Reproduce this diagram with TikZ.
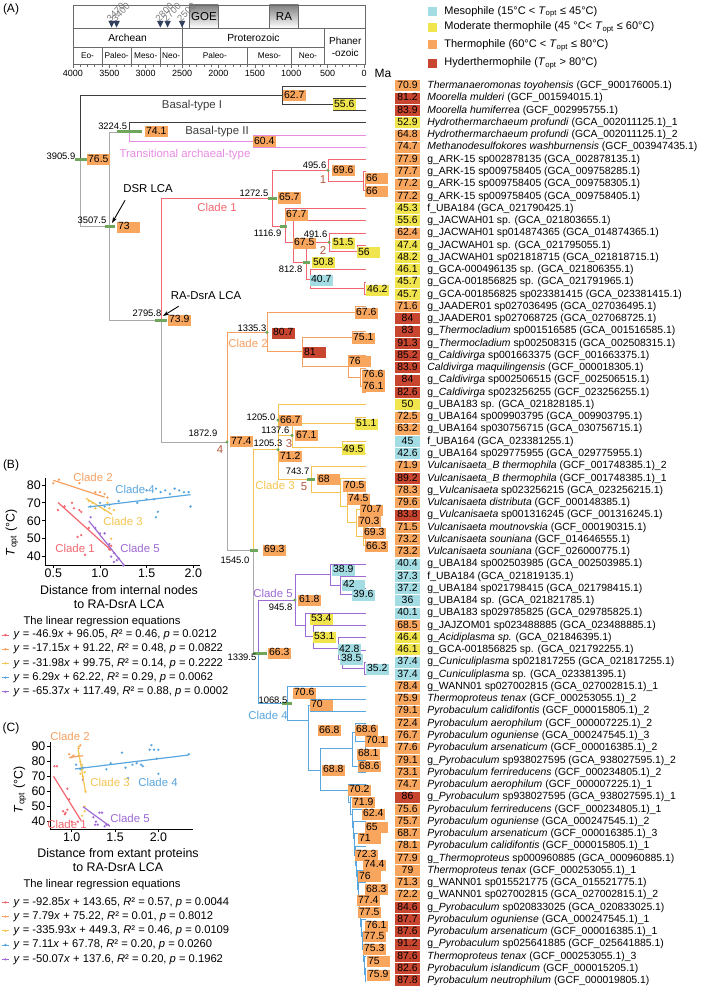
\documentclass[tikz,border=0pt]{standalone}
\usepackage{fontspec}
\setmainfont{Liberation Sans}
\usetikzlibrary{arrows.meta,positioning,calc}

\definecolor{meso}{HTML}{A4DCE4}
\definecolor{modt}{HTML}{F1E54E}
\definecolor{therm}{HTML}{F8A55E}
\definecolor{hyper}{HTML}{C8462F}
\definecolor{basal}{HTML}{3D3D3D}
\definecolor{stem}{HTML}{AAAAAA}
\definecolor{trans}{HTML}{E88BE2}
\definecolor{cladeA}{HTML}{F2666F}
\definecolor{cladeB}{HTML}{F6A062}
\definecolor{cladeC}{HTML}{F3C451}
\definecolor{cladeD}{HTML}{5AA6DE}
\definecolor{cladeE}{HTML}{9E6AD4}
\definecolor{hpd}{HTML}{6EA65C}
\definecolor{numred}{HTML}{B5573E}
\definecolor{frame}{HTML}{6A6A6A}
\definecolor{event}{HTML}{30405C}
\definecolor{evtext}{HTML}{7A7A7A}
\definecolor{shade}{HTML}{C9C9C9}

\newcommand\tipfont{\fontsize{10.4}{12}\selectfont}
\newcommand\agefont{\fontsize{9.4}{11}\selectfont}
\newcommand\cladefont{\fontsize{11.4}{13}\selectfont}
\newcommand\eqfont{\fontsize{11.2}{13}\selectfont}
\newcommand\axfont{\fontsize{12.4}{14}\selectfont}

\begin{document}
\begin{tikzpicture}[x=1pt,y=-1pt,>=Stealth]
  \tikzstyle{tipval}=[inner sep=0pt,minimum width=25pt,minimum height=11pt,text height=7.6pt,text depth=2.2pt,font=\tipfont]
  \tikzstyle{tiplab}=[inner sep=0pt,anchor=west,text height=7.6pt,text depth=2.2pt,font=\tipfont]
  \tikzstyle{nodeval}=[inner sep=0pt,inner xsep=1pt,anchor=west,minimum height=11pt,text width=21pt,align=left,text height=7.6pt,text depth=2.2pt,font=\tipfont]
  \tikzstyle{agelab}=[inner sep=0.5pt,anchor=east,font=\agefont]
  \tikzstyle{cladelab}=[inner sep=0pt,font=\cladefont]
  \tikzstyle{cladenum}=[inner sep=0pt,font=\cladefont,text=numred]
  \tikzstyle{br}=[line width=0.9pt]
  \tikzstyle{hpdbar}=[hpd,line width=3pt]
  \tikzstyle{frameline}=[frame,line width=0.7pt]
  \tikzstyle{eqline}=[inner sep=0pt,anchor=west,font=\eqfont]
  \tikzstyle{axline}=[black,line width=0.9pt]

  \useasboundingbox (0,0) rectangle (702,987);

  % ---------- panel labels
  \node[font=\fontsize{12}{14}\selectfont] (panA) at (11,9) {(A)};
  \node[font=\fontsize{12}{14}\selectfont] (panB) at (11,465) {(B)};
  \node[font=\fontsize{12}{14}\selectfont] (panC) at (11,728) {(C)};

  % ---------- geological time scale
  \begin{scope}[shift={(364,0)},x=-0.07275pt]
    \fill[shade] (2400,5) rectangle (2000,28);
    \fill[shade] (1300,5) rectangle (900,28);
    \draw[frameline] (2400,5) -- (2400,28) (2000,5) -- (2000,28)
                     (1300,5) -- (1300,28) (900,5) -- (900,28);
    \draw[frameline] (4000,5) rectangle (-25,64.5);
    \draw[frameline] (4000,28) -- (-25,28);
    \draw[frameline] (4000,47) -- (541,47);
    \draw[frameline] (2500,24) -- (2500,64.5);
    \draw[frameline] (541,28) -- (541,64.5);
    \foreach \a in {3600,3200,2800,1600,1000}
      \draw[frameline] (\a,47) -- (\a,64.5);
    \foreach \a in {0,100,...,4000}
      \draw[frameline] (\a,64.5) -- (\a,66.8);
    \foreach \a in {0,500,...,4000}{
      \draw[frameline] (\a,64.5) -- (\a,68.5);
      \node[font=\fontsize{9}{10}\selectfont,inner sep=0pt] (tk\a) at (\a,73) {\a};
    }
    \node[font=\fontsize{11.5}{13}\selectfont] (goe) at (2200,16.5) {GOE};
    \node[font=\fontsize{11.5}{13}\selectfont] (ra) at (1100,16.5) {RA};
    \node[font=\fontsize{10.3}{12}\selectfont] (archean) at (3250,37.5) {Archean};
    \node[font=\fontsize{10.3}{12}\selectfont] (proter) at (1520,37.5) {Proterozoic};
    \node[font=\fontsize{10}{12}\selectfont,align=center,inner sep=0pt] (phaner) at (258,47) {Phaner\\-ozoic};
    \foreach \a/\b/\n in {4000/3600/Eo-,3600/3200/Paleo-,3200/2800/Meso-,2800/2500/Neo-,2500/1600/Paleo-,1600/1000/Meso-,1000/541/Neo-}
      \node[font=\fontsize{8.3}{10}\selectfont,inner sep=0pt] (era\b) at ({(\a+\b)/2},56) {\n};
  \end{scope}
  \node[font=\fontsize{12}{14}\selectfont,inner sep=0pt] (ma) at (383,73) {Ma};
  \foreach \x/\n in {111.6/3470,116.6/3400,160.3/2800,167.6/2700,182.1/2500}{
    \fill[event] (\x,27.5) -- (\x-3.2,21) -- (\x+3.2,21) -- cycle;
    \node[font=\fontsize{9.5}{11}\selectfont,text=evtext,rotate=45,anchor=west,inner sep=0pt] (ev\n) at (\x-3.5,20) {\n};
  }

  % ---------- legend
  \foreach \c/\y/\n in {meso/11.7/{Mesophile (15°C < \textit{T}\textsubscript{opt} ≤ 45°C)},
                        modt/27.3/{Moderate thermophile (45 °C< \textit{T}\textsubscript{opt} ≤ 60°C)},
                        therm/45/{Thermophile (60°C < \textit{T}\textsubscript{opt} ≤ 80°C)},
                        hyper/63.3/{Hyderthermophile (\textit{T}\textsubscript{opt} > 80°C)}}{
    \node[fill=\c,minimum size=9pt,inner sep=0pt] (lg\c) at (432.5,\y) {};
    \node[inner sep=0pt,anchor=west,font=\fontsize{11}{13}\selectfont,right=7pt of lg\c.east] (lt\c) {\n};
  }

  % ---------- tips
  \foreach \val/\col/\lab [count=\i] in {
    70.9/therm/{\textit{Thermanaeromonas toyohensis} (GCF\_900176005.1)},
    81.2/hyper/{\textit{Moorella mulderi} (GCF\_001594015.1)},
    83.9/hyper/{\textit{Moorella humiferrea} (GCF\_002995755.1)},
    52.9/modt/{\textit{Hydrothermarchaeum profundi} (GCA\_002011125.1)\_1},
    64.8/therm/{\textit{Hydrothermarchaeum profundi} (GCA\_002011125.1)\_2},
    74.7/therm/{\textit{Methanodesulfokores washburnensis} (GCF\_003947435.1)},
    77.9/therm/{g\_ARK-15 sp002878135 (GCA\_002878135.1)},
    77.7/therm/{g\_ARK-15 sp009758405 (GCA\_009758285.1)},
    77.2/therm/{g\_ARK-15 sp009758405 (GCA\_009758305.1)},
    77.2/therm/{g\_ARK-15 sp009758405 (GCA\_009758405.1)},
    45.3/modt/{f\_UBA184 (GCA\_021790425.1)},
    55.6/modt/{g\_JACWAH01 sp. (GCA\_021803655.1)},
    62.4/therm/{g\_JACWAH01 sp014874365 (GCA\_014874365.1)},
    47.4/modt/{g\_JACWAH01 sp. (GCA\_021795055.1)},
    48.2/modt/{g\_JACWAH01 sp021818715 (GCA\_021818715.1)},
    46.1/modt/{g\_GCA-000496135 sp. (GCA\_021806355.1)},
    45.7/modt/{g\_GCA-001856825 sp. (GCA\_021791965.1)},
    45.7/modt/{g\_GCA-001856825 sp023381415 (GCA\_023381415.1)},
    71.6/therm/{g\_JAADER01 sp027036495 (GCA\_027036495.1)},
    84/hyper/{g\_JAADER01 sp027068725 (GCA\_027068725.1)},
    83/hyper/{g\_\textit{Thermocladium} sp001516585 (GCA\_001516585.1)},
    91.3/hyper/{g\_\textit{Thermocladium} sp002508315 (GCA\_002508315.1)},
    85.2/hyper/{g\_\textit{Caldivirga} sp001663375 (GCF\_001663375.1)},
    83.9/hyper/{\textit{Caldivirga maquilingensis} (GCF\_000018305.1)},
    84/hyper/{g\_\textit{Caldivirga} sp002506515 (GCF\_002506515.1)},
    82.6/hyper/{g\_\textit{Caldivirga} sp023256255 (GCF\_023256255.1)},
    50/modt/{g\_UBA183 sp. (GCA\_021828185.1)},
    72.5/therm/{g\_UBA164 sp009903795 (GCA\_009903795.1)},
    63.2/therm/{g\_UBA164 sp030756715 (GCA\_030756715.1)},
    45/meso/{f\_UBA164 (GCA\_023381255.1)},
    42.6/meso/{g\_UBA164 sp029775955 (GCA\_029775955.1)},
    71.9/therm/{\textit{Vulcanisaeta\_B thermophila} (GCF\_001748385.1)\_2},
    89.2/hyper/{\textit{Vulcanisaeta\_B thermophila} (GCF\_001748385.1)\_1},
    78.3/therm/{g\_\textit{Vulcanisaeta} sp023256215 (GCA\_023256215.1)},
    79.6/therm/{\textit{Vulcanisaeta distributa} (GCF\_000148385.1)},
    83.8/hyper/{g\_\textit{Vulcanisaeta} sp001316245 (GCF\_001316245.1)},
    71.5/therm/{\textit{Vulcanisaeta moutnovskia} (GCF\_000190315.1)},
    73.2/therm/{\textit{Vulcanisaeta souniana} (GCF\_014646555.1)},
    73.2/therm/{\textit{Vulcanisaeta souniana} (GCF\_026000775.1)},
    40.4/meso/{g\_UBA184 sp002503985 (GCA\_002503985.1)},
    37.3/meso/{f\_UBA184 (GCA\_021819135.1)},
    37.2/meso/{g\_UBA184 sp021798415 (GCA\_021798415.1)},
    36/meso/{g\_UBA184 sp. (GCA\_021821785.1)},
    40.1/meso/{g\_UBA183 sp029785825 (GCA\_029785825.1)},
    68.5/therm/{g\_JAJZOM01 sp023488885 (GCA\_023488885.1)},
    46.4/modt/{g\_\textit{Acidiplasma sp.} (GCA\_021846395.1)},
    46.1/modt/{g\_GCA-001856825 sp. (GCA\_021792255.1)},
    37.4/meso/{g\_\textit{Cuniculiplasma} sp021817255 (GCA\_021817255.1)},
    37.4/meso/{g\_\textit{Cuniculiplasma} sp. (GCA\_023381395.1)},
    78.4/therm/{g\_WANN01 sp027002815 (GCA\_027002815.1)\_1},
    75.9/therm/{\textit{Thermoproteus tenax} (GCF\_000253055.1)\_2},
    79.1/therm/{\textit{Pyrobaculum calidifontis} (GCF\_000015805.1)\_2},
    72.4/therm/{\textit{Pyrobaculum aerophilum} (GCF\_000007225.1)\_2},
    76.7/therm/{\textit{Pyrobaculum oguniense} (GCA\_000247545.1)\_3},
    77.6/therm/{\textit{Pyrobaculum arsenaticum} (GCF\_000016385.1)\_2},
    79.1/therm/{g\_\textit{Pyrobaculum} sp938027595 (GCA\_938027595.1)\_2},
    73.1/therm/{\textit{Pyrobaculum ferrireducens} (GCF\_000234805.1)\_2},
    74.7/therm/{\textit{Pyrobaculum aerophilum} (GCF\_000007225.1)\_1},
    86/hyper/{g\_\textit{Pyrobaculum} sp938027595 (GCA\_938027595.1)\_1},
    75.6/therm/{\textit{Pyrobaculum ferrireducens} (GCF\_000234805.1)\_1},
    75.7/therm/{\textit{Pyrobaculum oguniense} (GCA\_000247545.1)\_2},
    68.7/therm/{\textit{Pyrobaculum arsenaticum} (GCF\_000016385.1)\_3},
    78.1/therm/{\textit{Pyrobaculum calidifontis} (GCF\_000015805.1)\_1},
    77.9/therm/{g\_\textit{Thermoproteus} sp000960885 (GCA\_000960885.1)},
    79/therm/{\textit{Thermoproteus tenax} (GCF\_000253055.1)\_1},
    71.3/therm/{g\_WANN01 sp015521775 (GCA\_015521775.1)},
    72.2/therm/{g\_WANN01 sp027002815 (GCA\_027002815.1)\_2},
    84.6/hyper/{g\_\textit{Pyrobaculum} sp020833025 (GCA\_020833025.1)},
    87.7/hyper/{\textit{Pyrobaculum oguniense} (GCA\_000247545.1)\_1},
    87.6/hyper/{\textit{Pyrobaculum arsenaticum} (GCF\_000016385.1)\_1},
    91.2/hyper/{g\_\textit{Pyrobaculum} sp025641885 (GCF\_025641885.1)},
    87.6/hyper/{\textit{Thermoproteus tenax} (GCF\_000253055.1)\_3},
    82.6/hyper/{\textit{Pyrobaculum islandicum} (GCF\_000015205.1)},
    87.8/hyper/{\textit{Pyrobaculum neutrophilum} (GCF\_000019805.1)}}{
    \pgfmathsetmacro\yy{86+(\i-1)*12.26}
    \coordinate (l\i) at (366,\yy);
    \node[tipval,fill=\col] (v\i) at (407.5,\yy) {\val};
    \node[tiplab,right=7pt of v\i.east] (t\i) {\lab};
  }

  % ---------- internal nodes of the tree
  \coordinate (R) at (80,160);
  \coordinate (nB1) at (282,95);
  \coordinate (nB1b) at (333,104.4);
  \coordinate (DSR) at (109,226);
  \coordinate (n3224) at (129,132);
  \coordinate (nTr) at (253,141.2);
  \coordinate (RA) at (161,320);
  % clade 1
  \coordinate (n1272) at (272,198);
  \coordinate (n495) at (328,170.3);
  \coordinate (nA1) at (363,181);
  \coordinate (nA2) at (365,190.2);
  \coordinate (n1116) at (285,226);
  \coordinate (nB) at (293,242);
  \coordinate (n812) at (306,262);
  \coordinate (n491) at (329,242.3);
  \coordinate (n56) at (357,251.5);
  \coordinate (n40) at (310,279);
  \coordinate (n46) at (364,288.3);
  % clade 2
  \coordinate (n1872) at (227,442);
  \coordinate (n1335) at (267,332.4);
  \coordinate (n676) at (355,312.8);
  \coordinate (n81) at (302,351.9);
  \coordinate (n751) at (352,337.3);
  \coordinate (n76) at (348,366.5);
  \coordinate (n766) at (360,377.2);
  \coordinate (n761) at (362,386.4);
  % clade 3
  \coordinate (n1545) at (253,550);
  \coordinate (n1205c) at (278,449.7);
  \coordinate (n1205) at (278,420.1);
  \coordinate (n1137) at (292,435.4);
  \coordinate (n511) at (355,423.2);
  \coordinate (n495y) at (342,447.7);
  \coordinate (n743) at (311,479.3);
  \coordinate (n705) at (340,492.5);
  \coordinate (n745) at (347,506.7);
  \coordinate (n703) at (356,522.8);
  \coordinate (n707) at (360,509);
  \coordinate (n693) at (363,536.6);
  \coordinate (n663) at (365,545.8);
  % clade 5
  \coordinate (n1339) at (258,653);
  \coordinate (n945) at (295,600);
  \coordinate (n389) at (330,574.9);
  \coordinate (n42) at (340,585.6);
  \coordinate (n396) at (352,594.8);
  \coordinate (n534) at (305,625);
  \coordinate (n531) at (313,636.9);
  \coordinate (n428) at (338,648.4);
  \coordinate (n385) at (342,659.1);
  \coordinate (n352) at (364,668.3);
  % clade 4
  \coordinate (n1068) at (287,703);
  \coordinate (nP) at (308,720);
  \coordinate (n70) at (310,705.1);
  \coordinate (nR) at (320,770.5);
  \coordinate (nG1) at (352,748);
  \coordinate (nG1a) at (355,732.7);
  \coordinate (nG1c) at (365,741.9);
  \coordinate (nG1b) at (358,766.4);
  \foreach \x/\y [count=\k] in {348/790,350/802.7,352/814,353/827.7,354/838.7,355/855,356/865,357/876.7,
                                358/889.3,359/900.7,360/912.7,361/926,362/936.7,363/949,364/961.7,365/974.8}
    \coordinate (c\k) at (\x,\y);

  % ---------- branches
  \foreach \a/\b in {R/nB1,nB1/l1,nB1/nB1b,nB1b/l2,nB1b/l3,n3224/l4}
    \draw[br,basal] (\a) |- (\b);
  \foreach \a/\b in {R/DSR,DSR/n3224,DSR/RA,RA/n1872,n1872/n1545,n1545/n1339}
    \draw[br,stem] (\a) |- (\b);
  \foreach \a/\b in {n3224/nTr,nTr/l5,nTr/l6}
    \draw[br,trans] (\a) |- (\b);
  \foreach \a/\b in {RA/n1272,n1272/n495,n1272/n1116,n495/l7,n495/nA1,nA1/l8,nA1/nA2,nA2/l9,nA2/l10,
                     n1116/l11,n1116/nB,nB/l12,nB/n812,n812/n491,n812/n40,n491/l13,n491/n56,n56/l14,n56/l15,
                     n40/l16,n40/n46,n46/l17,n46/l18}
    \draw[br,cladeA] (\a) |- (\b);
  \foreach \a/\b in {n1872/n1335,n1335/n676,n1335/n81,n676/l19,n676/l20,n81/n751,n81/n76,n751/l21,n751/l22,
                     n76/l23,n76/n766,n766/l24,n766/n761,n761/l25,n761/l26}
    \draw[br,cladeB] (\a) |- (\b);
  \foreach \a/\b in {n1545/n1205c,n1205c/n1205,n1205c/n743,n1205/l27,n1205/n1137,n1137/n511,n1137/n495y,
                     n511/l28,n511/l29,n495y/l30,n495y/l31,n743/l32,n743/n705,n705/l33,n705/n745,n745/l34,
                     n745/n703,n703/n707,n703/n693,n707/l35,n707/l36,n693/l37,n693/n663,n663/l38,n663/l39}
    \draw[br,cladeC] (\a) |- (\b);
  \foreach \a/\b in {n1339/n945,n945/n389,n945/n534,n389/l40,n389/n42,n42/l41,n42/n396,n396/l42,n396/l43,
                     n534/l44,n534/n531,n531/l45,n531/n428,n428/l46,n428/n385,n385/l47,n385/n352,n352/l48,n352/l49}
    \draw[br,cladeE] (\a) |- (\b);
  \foreach \a/\b in {n1339/n1068,n1068/l50,n1068/nP,nP/n70,nP/nR,n70/l51,n70/l52,nR/nG1,nR/c1,
                     nG1/nG1a,nG1/nG1b,nG1a/l53,nG1a/nG1c,nG1c/l54,nG1c/l55,nG1b/l56,nG1b/l57}
    \draw[br,cladeD] (\a) |- (\b);
  \foreach \k [evaluate=\k as \j using int(\k+1), evaluate=\k as \m using int(\k+57)] in {1,...,15}{
    \draw[br,cladeD] (c\k) |- (l\m);
    \draw[br,cladeD] (c\k) |- (c\j);
  }
  \draw[br,cladeD] (c16) |- (l73);
  \draw[br,cladeD] (c16) |- (l74);

  % ---------- age intervals and node dots
  \foreach \a/\b/\y in {75/87/160,117/142/131.7,105/115/226,155/167/320,268/277/198,280/287/226,303/310/262,
                        307/315/479.3,250/258/550,253/267/653,282/292/703}
    \draw[hpdbar] (\a,\y) -- (\b,\y);
  \foreach \n in {n495,n491,n1335,n1205,n1137,n1205c,n1872,n945}
    \fill[hpd] (\n) circle (1.7pt);

  % ---------- ancestral Topt at nodes
  \foreach \x/\y/\c/\v [count=\k] in {
    283/95.7/therm/62.7, 333/105/modt/55.6, 145/132/therm/74.1, 253/142/therm/60.4, 87/160/therm/76.5,
    117/227/therm/73, 168/320/therm/73.9,
    278/198/therm/65.7, 332/171/therm/69.6, 365/179/therm/66, 365/191.7/therm/66, 285/215/therm/67.7,
    293/243/therm/67.5, 332/243/modt/51.5, 357/252.7/modt/56, 312/262.7/modt/50.8, 310/280/meso/40.7,
    366/290/modt/46.2,
    272/333/hyper/80.7, 355/313/therm/67.6, 303/352.7/hyper/81, 352/338/therm/75.1, 348/361.7/therm/76,
    362/375/therm/76.6, 362/386.7/therm/76.1,
    230/441.7/therm/77.4,
    279/420.7/therm/66.7, 295/435.7/therm/67.1, 279/456.7/therm/71.2, 355/424/modt/51.1, 342/449.3/modt/49.5,
    317/479.3/therm/68, 343/486/therm/70.5, 347/499/therm/74.5, 360/510/therm/70.7, 358/521.7/therm/70.3,
    363/533/therm/69.3, 365/546.7/therm/66.3,
    263/550/therm/69.3, 268/653/therm/66.3,
    298/600/therm/61.8, 332/570/meso/38.9, 342/585/meso/42, 352/595/meso/39.6, 310/619/modt/53.4,
    313/637/modt/53.1, 338/649.3/meso/42.8, 340/659/meso/38.5, 366/669/meso/35.2,
    293/693/therm/70.6, 310/705/therm/70, 318/730.7/therm/66.8, 322/770/therm/68.8, 355/730/therm/68.6,
    365/741/therm/70.1, 357/754/therm/68.1, 358/766.7/therm/68.6,
    348/790/therm/70.2, 352/802.7/therm/71.9, 362/814/therm/62.4, 365/827.7/therm/65, 358/838.7/therm/71,
    355/855/therm/72.3, 363/865/therm/74.4, 358/876.7/therm/76, 365/889.3/therm/68.3, 357/900.7/therm/77.4,
    358/912.7/therm/77.5, 365/926/therm/76.1, 363/936.7/therm/77.5, 363/949/therm/75.3, 367/961.7/therm/75,
    367/975/therm/75.9}
    \node[nodeval,fill=\c] (nv\k) at (\x,\y) {\v};

  % ---------- divergence times
  \foreach \x/\y/\t [count=\k] in {76/156/3905.9, 127.7/126.7/3224.5, 107/220/3507.5, 162/313/2795.8,
      269/193/1272.5, 327/165/495.6, 282/233/1116.9, 328/234/491.6, 303/269/812.8, 267/328/1335.3,
      218/433/1872.9, 276/417/1205.0, 290/430/1137.6, 283/443/1205.3, 310/471.7/743.7, 250/560/1545.0,
      257/657/1339.5, 293/607/945.8, 288/700/1068.5}
    \node[agelab] (age\k) at (\x,\y) {\t};

  % ---------- clade names
  \node[cladelab,text=basal] (lbI) at (192,106) {Basal-type I};
  \node[cladelab,text=basal] (lbII) at (217,132) {Basal-type II};
  \node[cladelab,text=trans] (lbTr) at (185,155) {Transitional archaeal-type};
  \node[cladelab,text=cladeA] (lbC1) at (217,207) {Clade 1};
  \node[cladelab,text=cladeB] (lbC2) at (248,343) {Clade 2};
  \node[cladelab,text=cladeC] (lbC3) at (275,485) {Clade 3};
  \node[cladelab,text=cladeE] (lbC5) at (273,593) {Clade 5};
  \node[cladelab,text=cladeD] (lbC4) at (268,715) {Clade 4};
  \node[cladenum] (num1) at (323,180) {1};
  \node[cladenum] (num2) at (323,251) {2};
  \node[cladenum] (num3) at (289,444) {3};
  \node[cladenum] (num4) at (220,450) {4};
  \node[cladenum] (num5) at (304,487) {5};

  \node[cladelab] (lbDSR) at (148,189) {DSR LCA};
  \node[cladelab] (lbRA) at (206,296) {RA-DsrA LCA};
  \coordinate (dsrTip) at (112,223);
  \coordinate (raTip) at (163,316);
  \draw[-{Stealth[length=6pt,width=4pt]},line width=0.9pt] ([shift={(2,7)}]lbDSR.south west) -- (dsrTip);
  \draw[-{Stealth[length=6pt,width=4pt]},line width=0.9pt] ([shift={(8,6)}]lbRA.south west) -- (raTip);

  % ---------- panel B
  \begin{scope}[shift={(53.3-0.5*93.33,485+80*1.79)},x=93.33pt,y=1.79pt]
    \draw[axline] (0.415,84) -- (0.415,35.3) -- (2.07,35.3);
    \foreach \t [count=\k] in {40,50,...,80}{
      \draw[axline] (0.415,\t) -- ++(-3pt,0);
      \node[anchor=east,inner sep=0pt,font=\axfont] (bY\k) at ([xshift=-4.5pt]0.415,\t) {\t};
    }
    \foreach \t [count=\k] in {0.5,1.0,1.5,2.0}{
      \draw[axline] (\t,35.3) -- ++(0,-3pt);
      \node[anchor=north,inner sep=0pt,font=\axfont] (bX\k) at ([yshift=-4pt]\t,35.3) {\t};
    }
    \foreach \px/\py in {0.55/66,0.62/68,0.7/70,0.72/67,0.78/66,0.8/65,0.76/51,0.8/52,0.84/41,0.88/56,1.1/44,1.12/46}
      \fill[cladeA] (\px,\py) circle (1.3pt);
    \foreach \px/\py in {0.5/81,0.56/83,0.78/81,0.95/76,1.0/76,1.05/75,1.08/73}
      \fill[cladeB] (\px,\py) circle (1.3pt);
    \foreach \px/\py in {0.88/71,0.92/70,0.95/67,1.0/68,1.05/66,1.08/70,1.1/67,1.12/50,1.1/46,1.15/66}
      \fill[cladeC] (\px,\py) circle (1.3pt);
    \foreach \px/\py in {0.9/68,1.0/70,1.05/68,1.1/69,1.2/71,1.4/70,1.5/72,1.58/72,1.6/62,1.62/65,1.65/76,1.7/77,
                         1.75/75,1.8/78,1.85/77,1.9/76,1.95/76,1.97/68,1.6/78,1.5/77}
      \fill[cladeD] (\px,\py) circle (1.3pt);
    \foreach \px/\py in {0.9/62,0.95/56,1.0/53,1.05/53,1.1/47,1.12/40,1.15/42,1.18/38,1.2/39,1.25/35,1.15/37}
      \fill[cladeE] (\px,\py) circle (1.3pt);
    \draw[cladeA,line width=1.2pt] (0.55,70.25) -- (1.12,43.52);
    \draw[cladeB,line width=1.2pt] (0.5,82.65) -- (1.05,73.21);
    \draw[cladeC,line width=1.2pt] (0.85,72.57) -- (1.13,63.61);
    \draw[cladeD,line width=1.2pt] (0.87,67.69) -- (1.97,74.61);
    \draw[cladeE,line width=1.2pt] (0.88,60) -- (1.26,35.12);
  \end{scope}
  \node[font=\axfont,rotate=90,inner sep=0pt] (bYlab) at (12,533) {\textit{T}\textsubscript{opt} (°C)};
  \node[cladelab,text=cladeB] (bC2) at (93,477) {Clade 2};
  \node[cladelab,text=cladeD] (bC4) at (135,489) {Clade 4};
  \node[cladelab,text=cladeC] (bC3) at (123,521) {Clade 3};
  \node[cladelab,text=cladeA] (bC1) at (75,548) {Clade 1};
  \node[cladelab,text=cladeE] (bC5) at (140,548) {Clade 5};
  \node[font=\axfont,align=center,inner sep=0pt] (bXlab) at (119,597) {Distance from internal nodes\\to RA-DsrA LCA};
  \node[font=\eqfont,inner sep=0pt] (bEqT) at (102,621.7) {The linear regression equations};
  \foreach \c/\y/\e [count=\k] in {
      cladeA/635/{\textit{y} = -46.9\textit{x} + 96.05, \textit{R}² = 0.46, \textit{p} = 0.0212},
      cladeB/649.2/{\textit{y} = -17.15\textit{x} + 91.22, \textit{R}² = 0.48, \textit{p} = 0.0822},
      cladeC/663.4/{\textit{y} = -31.98\textit{x} + 99.75, \textit{R}² = 0.14, \textit{p} = 0.2222},
      cladeD/677.6/{\textit{y} = 6.29\textit{x} + 62.22, \textit{R}² = 0.29, \textit{p} = 0.0062},
      cladeE/691.8/{\textit{y} = -65.37\textit{x} + 117.49, \textit{R}² = 0.88, \textit{p} = 0.0002}}{
    \draw[\c,line width=0.8pt] (2,\y) -- (9,\y);
    \fill[\c] (5.5,\y) circle (1.3pt);
    \node[eqline] (bEq\k) at (13.3,\y) {\e};
  }

  % ---------- panel C
  \begin{scope}[shift={(71.7-86.7,746.7+90*1.5)},x=86.7pt,y=1.5pt]
    \draw[axline] (0.75,93) -- (0.75,35.1) -- (2.4,35.1);
    \foreach \t [count=\k] in {40,50,...,90}{
      \draw[axline] (0.75,\t) -- ++(-3pt,0);
      \node[anchor=east,inner sep=0pt,font=\axfont] (cY\k) at ([xshift=-4.5pt]0.75,\t) {\t};
    }
    \foreach \t [count=\k] in {1.0,1.5,2.0}{
      \draw[axline] (\t,35.1) -- ++(0,-3pt);
      \node[anchor=north,inner sep=0pt,font=\axfont] (cX\k) at ([yshift=-4pt]\t,35.1) {\t};
    }
    \foreach \px/\py in {0.8/77,0.83/77,0.95/62,0.97/55,0.9/47,0.92/45,0.95/48,0.93/46,1.0/40,1.07/40}
      \fill[cladeA] (\px,\py) circle (1.3pt);
    \foreach \px/\py in {0.97/85,1.0/83,1.02/84,1.08/84,1.1/91,1.08/89,1.12/76}
      \fill[cladeB] (\px,\py) circle (1.3pt);
    \foreach \px/\py in {1.08/90,1.1/80,1.12/78,1.1/72,1.15/73,1.13/70,1.16/60,1.15/50,1.12/44,1.15/47,1.12/75}
      \fill[cladeC] (\px,\py) circle (1.3pt);
    \foreach \px/\py in {1.05/78,1.1/75,1.13/76,1.4/75,1.45/79,1.58/86,1.62/76,1.65/69,1.7/78,1.75/79,1.8/78,
                         1.82/77,1.9/88,1.92/91,1.95/88,1.98/82,2.0/88,2.0/72,2.35/85}
      \fill[cladeD] (\px,\py) circle (1.3pt);
    \foreach \px/\py in {1.13/68,1.25/43,1.27/38,1.3/38,1.32/46,1.35/46,1.38/37,1.4/38,1.42/38,1.28/40}
      \fill[cladeE] (\px,\py) circle (1.3pt);
    \draw[cladeA,line width=1.2pt] (0.79,70.3) -- (1.11,40.6);
    \draw[cladeB,line width=1.2pt] (0.97,82.8) -- (1.13,84.0);
    \draw[cladeC,line width=1.2pt] (1.075,88.2) -- (1.16,59.6);
    \draw[cladeD,line width=1.2pt] (1.04,75.2) -- (2.34,84.4);
    \draw[cladeE,line width=1.2pt] (1.13,50) -- (1.44,37);
  \end{scope}
  \node[font=\axfont,rotate=90,inner sep=0pt] (cYlab) at (20,790) {\textit{T}\textsubscript{opt} (°C)};
  \node[cladelab,text=cladeB] (cC2) at (70,736) {Clade 2};
  \node[cladelab,text=cladeC] (cC3) at (110,782) {Clade 3};
  \node[cladelab,text=cladeD] (cC4) at (158,782) {Clade 4};
  \node[cladelab,text=cladeE] (cC5) at (130,818) {Clade 5};
  \node[cladelab,text=cladeA] (cC1) at (67,824) {Clade 1};
  \node[font=\axfont,align=center,inner sep=0pt] (cXlab) at (118,860) {Distance from extant proteins\\to RA-DsrA LCA};
  \node[font=\eqfont,inner sep=0pt] (cEqT) at (102,884.3) {The linear regression equations};
  \foreach \c/\y/\e [count=\k] in {
      cladeA/902.3/{\textit{y} = -92.85\textit{x} + 143.65, \textit{R}² = 0.57, \textit{p} = 0.0044},
      cladeB/916.6/{\textit{y} = 7.79\textit{x} + 75.22, \textit{R}² = 0.01, \textit{p} = 0.8012},
      cladeC/930.8/{\textit{y} = -335.93\textit{x} + 449.3, \textit{R}² = 0.46, \textit{p} = 0.0109},
      cladeD/945/{\textit{y} = 7.11\textit{x} + 67.78, \textit{R}² = 0.20, \textit{p} = 0.0260},
      cladeE/959.3/{\textit{y} = -50.07\textit{x} + 137.6, \textit{R}² = 0.20, \textit{p} = 0.1962}}{
    \draw[\c,line width=0.8pt] (2,\y) -- (9,\y);
    \fill[\c] (5.5,\y) circle (1.3pt);
    \node[eqline] (cEq\k) at (13.3,\y) {\e};
  }
\end{tikzpicture}
\end{document}
